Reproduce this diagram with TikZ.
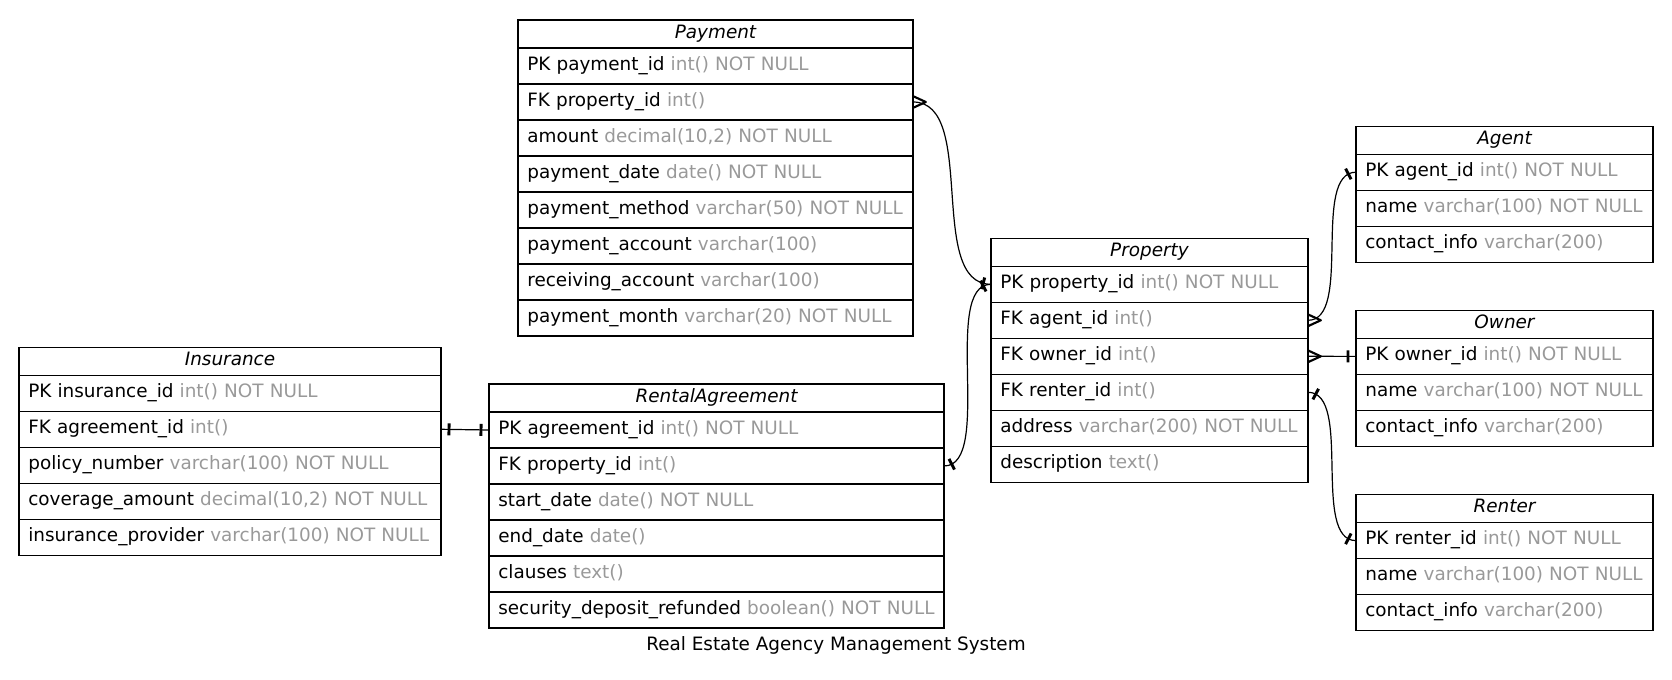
\documentclass[tikz,border=0pt]{standalone}
\usepackage{fontspec}
\setmainfont{DejaVu Sans}
\usetikzlibrary{positioning,decorations.markings}

\definecolor{typegray}{RGB}{153,153,153}
\newcommand{\fld}[2]{\mbox{#1 \textcolor{typegray}{#2}}}

\tikzset{
  tablehead/.style={draw, line width=1pt, outer sep=0pt, inner xsep=7pt, inner ysep=2pt,
    text width=#1, align=center, minimum height=21pt, text height=10pt, text depth=3.5pt,
    execute at begin node=\itshape, anchor=north west},
  field/.style={draw, line width=1pt, outer sep=0pt, inner xsep=7pt, inner ysep=2pt,
    text width=#1, align=left, minimum height=27pt, text height=10pt, text depth=3.5pt},
  link/.style={line width=0.9pt},
  crowstart/.style={postaction={decorate, decoration={markings,
    mark=at position 0pt with {\draw[line width=1.6pt, line join=round] (0pt,4.4pt) -- (9.6pt,0pt) -- (0pt,-4.4pt);}}}},
  teestart/.style={postaction={decorate, decoration={markings,
    mark=at position 6pt with {\fill (-1.1pt,-4.5pt) rectangle (1.1pt,4.5pt);}}}},
  teeend/.style={postaction={decorate, decoration={markings,
    mark=at position -6pt with {\fill (-1.1pt,-4.5pt) rectangle (1.1pt,4.5pt);}}}}
}

\begin{document}
\begin{tikzpicture}[x=0.75pt, y=-0.75pt, font=\fontsize{13.8pt}{16.5pt}\selectfont]
\useasboundingbox (0,0) rectangle (1672,680);

% Insurance
\node[tablehead=302.5pt] (ins) at (19,347.3) {Insurance};
\node[field=302.5pt, below=0pt of ins] (ins-pk) {\fld{PK insurance\_id}{int() NOT NULL}};
\node[field=302.5pt, below=0pt of ins-pk] (ins-agr) {\fld{FK agreement\_id}{int()}};
\node[field=302.5pt, below=0pt of ins-agr] (ins-pol) {\fld{policy\_number}{varchar(100) NOT NULL}};
\node[field=302.5pt, below=0pt of ins-pol] (ins-cov) {\fld{coverage\_amount}{decimal(10,2) NOT NULL}};
\node[field=302.5pt, below=0pt of ins-cov] (ins-prov) {\fld{insurance\_provider}{varchar(100) NOT NULL}};

% Payment
\node[tablehead=282.25pt] (pay) at (518,20) {Payment};
\node[field=282.25pt, below=0pt of pay] (pay-pk) {\fld{PK payment\_id}{int() NOT NULL}};
\node[field=282.25pt, below=0pt of pay-pk] (pay-prop) {\fld{FK property\_id}{int()}};
\node[field=282.25pt, below=0pt of pay-prop] (pay-amt) {\fld{amount}{decimal(10,2) NOT NULL}};
\node[field=282.25pt, below=0pt of pay-amt] (pay-date) {\fld{payment\_date}{date() NOT NULL}};
\node[field=282.25pt, below=0pt of pay-date] (pay-meth) {\fld{payment\_method}{varchar(50) NOT NULL}};
\node[field=282.25pt, below=0pt of pay-meth] (pay-pacc) {\fld{payment\_account}{varchar(100)}};
\node[field=282.25pt, below=0pt of pay-pacc] (pay-racc) {\fld{receiving\_account}{varchar(100)}};
\node[field=282.25pt, below=0pt of pay-racc] (pay-month) {\fld{payment\_month}{varchar(20) NOT NULL}};

% RentalAgreement
\node[tablehead=327.25pt] (ra) at (489,384) {RentalAgreement};
\node[field=327.25pt, below=0pt of ra] (ra-pk) {\fld{PK agreement\_id}{int() NOT NULL}};
\node[field=327.25pt, below=0pt of ra-pk] (ra-prop) {\fld{FK property\_id}{int()}};
\node[field=327.25pt, below=0pt of ra-prop] (ra-start) {\fld{start\_date}{date() NOT NULL}};
\node[field=327.25pt, below=0pt of ra-start] (ra-end) {\fld{end\_date}{date()}};
\node[field=327.25pt, below=0pt of ra-end] (ra-cl) {\fld{clauses}{text()}};
\node[field=327.25pt, below=0pt of ra-cl] (ra-dep) {\fld{security\_deposit\_refunded}{boolean() NOT NULL}};

% Property
\node[tablehead=223.75pt] (prop) at (991,238.3) {Property};
\node[field=223.75pt, below=0pt of prop] (prop-pk) {\fld{PK property\_id}{int() NOT NULL}};
\node[field=223.75pt, below=0pt of prop-pk] (prop-agent) {\fld{FK agent\_id}{int()}};
\node[field=223.75pt, below=0pt of prop-agent] (prop-owner) {\fld{FK owner\_id}{int()}};
\node[field=223.75pt, below=0pt of prop-owner] (prop-renter) {\fld{FK renter\_id}{int()}};
\node[field=223.75pt, below=0pt of prop-renter] (prop-addr) {\fld{address}{varchar(200) NOT NULL}};
\node[field=223.75pt, below=0pt of prop-addr] (prop-desc) {\fld{description}{text()}};

% Agent
\node[tablehead=208.75pt] (agent) at (1356,126.2) {Agent};
\node[field=208.75pt, below=0pt of agent] (agent-pk) {\fld{PK agent\_id}{int() NOT NULL}};
\node[field=208.75pt, below=0pt of agent-pk] (agent-name) {\fld{name}{varchar(100) NOT NULL}};
\node[field=208.75pt, below=0pt of agent-name] (agent-info) {\fld{contact\_info}{varchar(200)}};

% Owner
\node[tablehead=208.75pt] (owner) at (1356,310.4) {Owner};
\node[field=208.75pt, below=0pt of owner] (owner-pk) {\fld{PK owner\_id}{int() NOT NULL}};
\node[field=208.75pt, below=0pt of owner-pk] (owner-name) {\fld{name}{varchar(100) NOT NULL}};
\node[field=208.75pt, below=0pt of owner-name] (owner-info) {\fld{contact\_info}{varchar(200)}};

% Renter
\node[tablehead=208.75pt] (renter) at (1356,494.6) {Renter};
\node[field=208.75pt, below=0pt of renter] (renter-pk) {\fld{PK renter\_id}{int() NOT NULL}};
\node[field=208.75pt, below=0pt of renter-pk] (renter-name) {\fld{name}{varchar(100) NOT NULL}};
\node[field=208.75pt, below=0pt of renter-name] (renter-info) {\fld{contact\_info}{varchar(200)}};

% relations
\draw[link, crowstart, teeend] (pay-prop.east) .. controls +(65,0) and +(-65,0) .. (prop-pk.west);
\draw[link, teestart, teeend] (ra-prop.east) .. controls +(50,0) and +(-50,0) .. (prop-pk.west);
\draw[link, teestart, teeend] (ins-agr.east) -- (ra-pk.west);
\draw[link, crowstart, teeend] (prop-agent.east) .. controls +(45,0) and +(-45,0) .. (agent-pk.west);
\draw[link, crowstart, teeend] (prop-owner.east) -- (owner-pk.west);
\draw[link, teestart, teeend] (prop-renter.east) .. controls +(45,0) and +(-45,0) .. (renter-pk.west);

\node[anchor=base] (title) at (836,651) {Real Estate Agency Management System};
\end{tikzpicture}
\end{document}
